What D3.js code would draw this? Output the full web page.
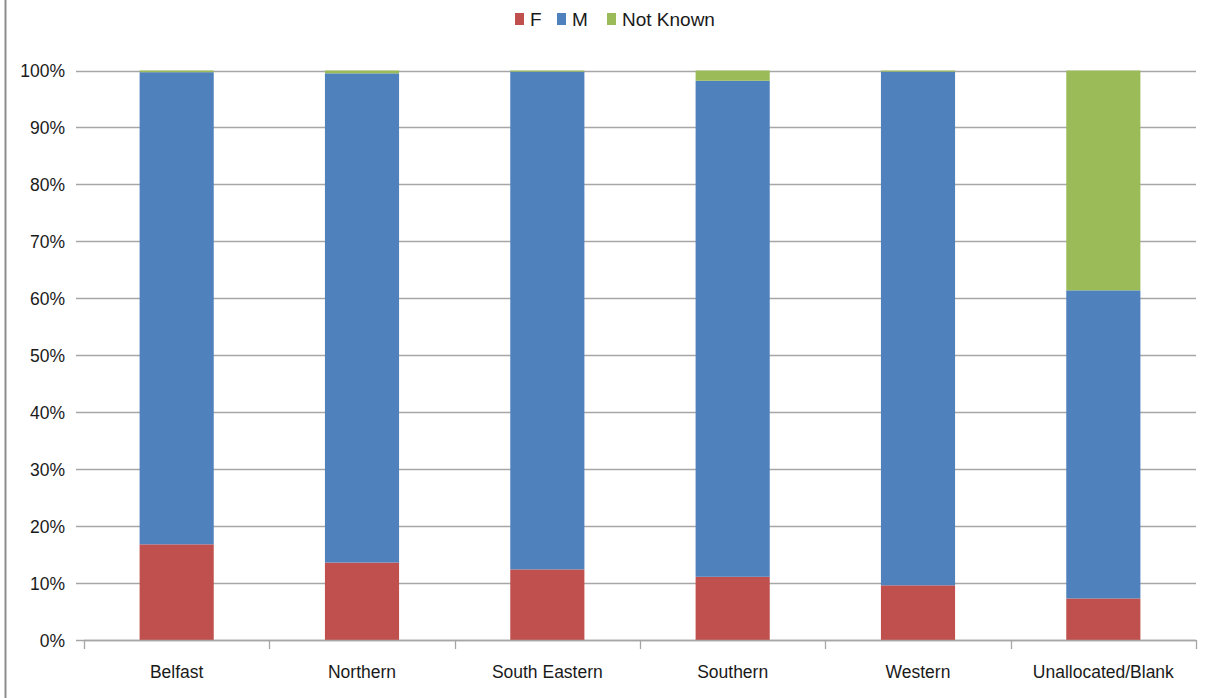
<!DOCTYPE html>
<html>
<head>
  <title>Gender by Trust</title>
  <meta charset="utf-8" />
  <script src="https://d3js.org/d3.v7.min.js"></script>
  <style>
    body{margin:0;background:#fff;}
    text{font-family:"Liberation Sans",Arial,sans-serif;fill:#1a1a1a;}
  </style>
</head>
<body>
<script>
// chart data (percent)
var categories = ["Belfast","Northern","South Eastern","Southern","Western","Unallocated/Blank"];
var seriesNames = ["F","M","Not Known"];
var femaleVals = [16.8, 13.6, 12.4, 11.1, 9.6, 7.3];
var maleVals = [82.9, 85.9, 87.4, 87.1, 90.2, 54.1];
var notKnownVals = [0.3, 0.5, 0.2, 1.8, 0.2, 38.6];
var yTicks = [0,10,20,30,40,50,60,70,80,90,100];
var colors = ["#C0504D","#4F81BD","#9BBB59"];

var W = 1213, H = 698;
var margin = {left:84, right:17, top:70.5, bottom:58};

var svg = d3.select('body').append('svg').attr('width',W).attr('height',H);

// left frame line
svg.append('line').attr('x1',5.5).attr('x2',5.5).attr('y1',0).attr('y2',H)
  .attr('stroke','#8c8c8c').attr('stroke-width',2);

var x = d3.scaleBand().domain(categories)
  .range([margin.left, W-margin.right]).paddingInner(0.6).paddingOuter(0.3);
var y = d3.scaleLinear().domain([0,100]).range([H-margin.bottom, margin.top]);

//gridlines + y labels
svg.append('g').selectAll('line').data(yTicks).enter().append('line')
  .attr('x1',margin.left-8).attr('x2',W-margin.right)
  .attr('y1',function(d){return Math.round(y(d))+0.5})
  .attr('y2',function(d){return Math.round(y(d))+0.5})
  .attr('stroke','#a6a6a6').attr('stroke-width',1.3);
svg.append('g').selectAll('text').data(yTicks).enter().append('text')
  .attr('x',65).attr('y',function(d){return y(d)+6.5})
  .attr('text-anchor','end').style('font-size','17.5px')
  .text(function(d){return d+'%'});

// stacked rows
var rows = categories.map(function(c,i){return {cat:c, "F":femaleVals[i], "M":maleVals[i], "Not Known":notKnownVals[i]}});
var stack = d3.stack().keys(seriesNames)(rows);

svg.append('g').selectAll('g').data(stack).enter().append('g')
  .attr('fill',function(d,i){return colors[i]})
  .selectAll('rect').data(function(d){return d}).enter().append('rect')
    .attr('x',function(d){return x(d.data.cat)})
    .attr('width',x.bandwidth())
    .attr('y',function(d){return y(d[1])})
    .attr('height',function(d){return y(d[0])-y(d[1])});

// x axis
var xAxis = svg.append('g');
var bx = [margin.left].concat(categories.map(function(c){return x(c)+x.bandwidth()/2+x.step()/2}));
xAxis.append('line').attr('x1',margin.left).attr('x2',W-margin.right)
  .attr('y1',y(0)+0.5).attr('y2',y(0)+0.5).attr('stroke','#a6a6a6').attr('stroke-width',1.3);
xAxis.selectAll('.tk').data(bx).enter().append('line')
  .attr('x1',function(d){return Math.round(d)+0.5}).attr('x2',function(d){return Math.round(d)+0.5})
  .attr('y1',y(0)).attr('y2',y(0)+9).attr('stroke','#a6a6a6').attr('stroke-width',1.3);
xAxis.selectAll('text').data(categories).enter().append('text')
  .attr('x',function(d){return x(d)+x.bandwidth()/2}).attr('y',678)
  .attr('text-anchor','middle').style('font-size','17.5px')
  .text(function(d){return d});

// legend
var legX = [515, 557, 607];
var leg = svg.append('g').selectAll('g').data(seriesNames).enter().append('g')
  .attr('transform',function(d,i){return 'translate('+legX[i]+',0)'});
leg.append('rect').attr('x',0).attr('y',13).attr('width',9).attr('height',12)
  .attr('fill',function(d,i){return colors[i]});
leg.append('text').attr('x',15).attr('y',26).style('font-size','19px')
  .text(function(d){return d});
</script>
</body>
</html>
